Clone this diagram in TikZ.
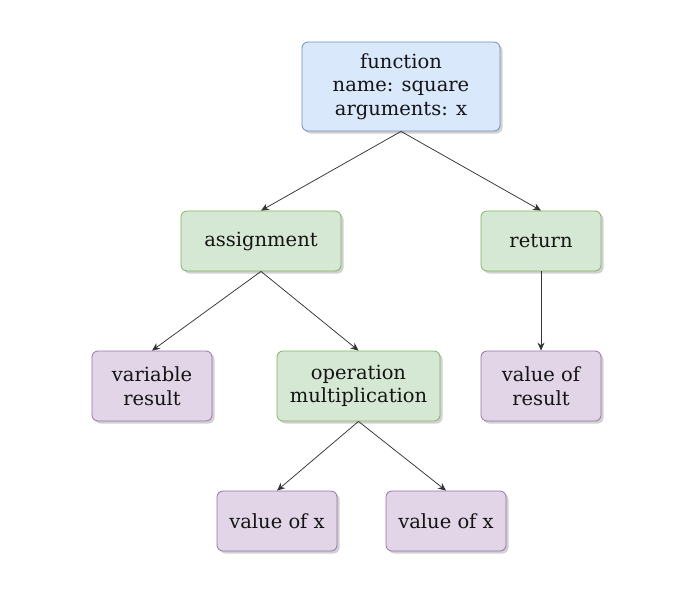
\documentclass[tikz,border=0pt]{standalone}
\usepackage{fontspec}
\setmainfont{DejaVu Serif}
\usetikzlibrary{arrows.meta,shadows}
\definecolor{bluefill}{HTML}{DAE8FC}
\definecolor{bluedraw}{HTML}{6C8EBF}
\definecolor{greenfill}{HTML}{D5E8D4}
\definecolor{greendraw}{HTML}{82B366}
\definecolor{purplefill}{HTML}{E1D5E7}
\definecolor{purpledraw}{HTML}{9673A6}
\tikzset{
  box/.style={rounded corners=6pt, line width=0.8pt, align=center, inner sep=0pt,
    font=\fontsize{19.5}{23.5}\selectfont, text=black!92,
    drop shadow={shadow xshift=2.5pt, shadow yshift=-2.5pt, fill=black, opacity=0.18}},
  bluebox/.style={box, fill=bluefill, draw=bluedraw},
  greenbox/.style={box, fill=greenfill, draw=greendraw},
  purplebox/.style={box, fill=purplefill, draw=purpledraw},
  conn/.style={draw=black!80, line width=0.75pt, -{Stealth[length=8pt,width=7pt]}}
}
\begin{document}
\begin{tikzpicture}[x=1pt,y=-1pt]
\useasboundingbox (0,0) rectangle (700,600);
\node[bluebox, minimum width=198pt, minimum height=89pt] (fn) at (401,86.5) {function\\name: square\\arguments: x};
\node[greenbox, minimum width=160pt, minimum height=60pt] (asg) at (261,241) {assignment};
\node[greenbox, minimum width=120pt, minimum height=60pt] (ret) at (541,241) {return};
\node[purplebox, minimum width=120pt, minimum height=70pt] (var) at (152,386) {variable\\result};
\node[greenbox, minimum width=163pt, minimum height=70pt] (op) at (358.5,386) {operation\\multiplication};
\node[purplebox, minimum width=120pt, minimum height=70pt] (vres) at (541,386) {value of\\result};
\node[purplebox, minimum width=120pt, minimum height=60pt] (vx1) at (277,521) {value of x};
\node[purplebox, minimum width=120pt, minimum height=60pt] (vx2) at (446,521) {value of x};
\draw[conn] (fn.south) -- (asg.north);
\draw[conn] (fn.south) -- (ret.north);
\draw[conn] (asg.south) -- (var.north);
\draw[conn] (asg.south) -- (op.north);
\draw[conn] (ret.south) -- (vres.north);
\draw[conn] (op.south) -- (vx1.north);
\draw[conn] (op.south) -- (vx2.north);
\end{tikzpicture}
\end{document}
